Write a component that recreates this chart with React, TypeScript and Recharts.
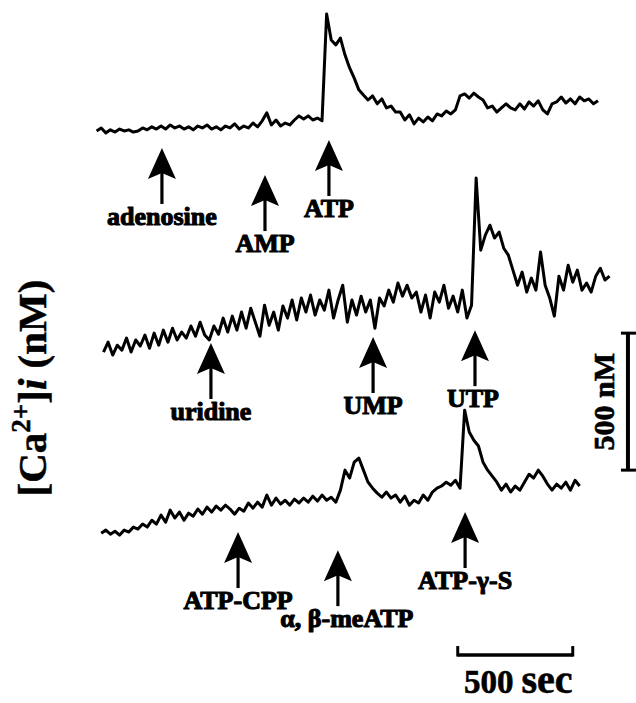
import { LineChart, Line, XAxis, YAxis, ReferenceDot, ReferenceLine } from 'recharts';

const SAMPLE_STEP = 20;

// adenosine / AMP / ATP run
const adenosineRun = [
  100, 111, 93, 104, 96, 107, 100, 104, 96, 100, 111, 104, 115, 107, 118, 107, 122, 111, 118, 107,
  115, 104, 118, 111, 122, 107, 115, 104, 118, 111, 126, 107, 118, 111, 129, 115, 137, 166, 122, 140,
  118, 129, 122, 140, 155, 144, 155, 140, 147, 137, 527, 432, 414, 439, 377, 330, 293, 250, 231, 213,
  228, 199, 217, 184, 191, 169, 169, 140, 159, 126, 147, 133, 151, 137, 162, 155, 173, 162, 177, 228,
  235, 220, 238, 224, 213, 184, 191, 169, 184, 199, 184, 177, 199, 180, 206, 191, 210, 177, 162, 199,
  206, 224, 202, 217, 199, 224, 210, 217, 199, 210
];

// uridine / UMP / UTP run
const uridineRun = [
  93, 129, 82, 118, 100, 144, 93, 137, 115, 155, 107, 162, 118, 173, 129, 180, 137, 166, 144, 188,
  151, 202, 155, 137, 188, 158, 217, 166, 224, 173, 239, 180, 253, 202, 151, 264, 191, 239, 173, 261,
  217, 283, 210, 290, 239, 301, 228, 283, 246, 319, 217, 283, 337, 202, 283, 228, 297, 239, 283, 180,
  290, 261, 319, 275, 345, 297, 337, 290, 312, 239, 301, 217, 312, 275, 337, 253, 297, 239, 319, 217,
  264, 728, 465, 520, 556, 509, 531, 472, 447, 392, 337, 385, 312, 363, 319, 458, 337, 290, 224, 370,
  319, 410, 348, 392, 319, 345, 312, 370, 399, 356, 370
];

// ATP analogue run
const analogueRun = [
  100, 111, 96, 107, 93, 111, 104, 122, 115, 133, 122, 147, 133, 166, 140, 184, 155, 177, 147, 173,
  162, 188, 169, 195, 177, 199, 184, 202, 188, 169, 191, 180, 210, 191, 213, 195, 239, 202, 228, 206,
  220, 202, 224, 210, 228, 213, 235, 217, 239, 220, 231, 213, 257, 330, 301, 359, 374, 330, 286, 264,
  246, 231, 250, 228, 239, 213, 235, 202, 220, 210, 239, 220, 250, 264, 272, 286, 275, 293, 264, 549,
  469, 439, 418, 359, 330, 308, 286, 257, 279, 250, 272, 257, 286, 315, 301, 330, 308, 279, 257, 279,
  264, 286, 257, 293, 272
];

const traceRuns = [adenosineRun, uridineRun, analogueRun];
const traceStarts = [0, 30, 20]; // s
const traceOffsets = [1988, 1188, 520]; // nM, stacks the three runs

// agonist additions
const stimulusLabels = ['adenosine', 'AMP', 'ATP', 'uridine', 'UMP', 'UTP', 'ATP-CPP', 'α, β-meATP', 'ATP-γ-S'];
const stimulusRun = [0, 0, 0, 1, 1, 1, 2, 2, 2];
const stimulusTimes = [284, 732, 1010, 497, 1202, 1645, 615, 1049, 1602];
const stimulusLevels = [38, -61, 67, 126, 148, 173, 104, 38, 177]; // nM on that run, arrow tip

// calibration bars
const timeBarSeconds = 500;
const concBarNm = 500;
const timeBarStart = 1570;
const timeBarLevel = 175;
const concBarTime = 2310;
const concBarFrom = 850;

const FONT = "'Liberation Serif', 'Times New Roman', serif";

const series = traceRuns.map((run, k) =>
  run.map((v, i) => ({ t: traceStarts[k] + i * SAMPLE_STEP, ca: v + traceOffsets[k] }))
);

const labelNudge: Record<string, number> = { 'α, β-meATP': 9, UTP: -2 };

const Arrow = (props: any) => {
  const { cx, cy, label } = props;
  if (cx == null || cy == null) return null;
  return (
    <g>
      <line x1={cx} y1={cy + 20} x2={cx} y2={cy + 56} stroke="#000" strokeWidth={3.2} />
      <path d={`M${cx},${cy} L${cx + 14},${cy + 31} L${cx},${cy + 25} L${cx - 14},${cy + 31} Z`} fill="#000" />
      <text
        x={cx + (labelNudge[label] || 0)}
        y={cy + 77}
        textAnchor="middle"
        fontFamily={FONT}
        fontWeight="bold"
        fontSize={26}
        stroke="#000"
        strokeWidth={1.1}
        strokeLinejoin="round"
        fill="#000"
      >
        {label}
      </text>
    </g>
  );
};

const TimeBar = (props: any) => {
  const { x1, y1, x2 } = props;
  return (
    <g>
      <line x1={x1} y1={y1} x2={x2} y2={y1} stroke="#000" strokeWidth={3.5} />
      <line x1={x1} y1={y1 + 1.5} x2={x1} y2={y1 - 9} stroke="#000" strokeWidth={3} />
      <line x1={x2} y1={y1 + 1.5} x2={x2} y2={y1 - 9} stroke="#000" strokeWidth={3} />
      <text
        x={(x1 + x2) / 2 + 3}
        y={y1 + 38}
        textAnchor="middle"
        fontFamily={FONT}
        fontWeight="bold"
        fill="#000"
        stroke="#000"
        strokeWidth={0.6}
      >
        <tspan fontSize={33}>{timeBarSeconds}</tspan>
        <tspan fontSize={40} dx={8}>sec</tspan>
      </text>
    </g>
  );
};

const ConcBar = (props: any) => {
  const { x1, y1, y2 } = props;
  const mid = (y1 + y2) / 2;
  return (
    <g>
      <line x1={x1} y1={y1} x2={x1} y2={y2} stroke="#000" strokeWidth={4} />
      <line x1={x1 - 7} y1={y1} x2={x1 + 8} y2={y1} stroke="#000" strokeWidth={3} />
      <line x1={x1 - 7} y1={y2} x2={x1 + 8} y2={y2} stroke="#000" strokeWidth={3} />
      <text
        x={x1 - 14}
        y={mid}
        transform={`rotate(-90 ${x1 - 14} ${mid})`}
        textAnchor="middle"
        fontFamily={FONT}
        fontWeight="bold"
        fontSize={30}
        stroke="#000"
        strokeWidth={0.6}
        fill="#000"
      >
        {concBarNm} nM
      </text>
    </g>
  );
};

export default function App() {
  return (
    <div style={{ position: 'absolute', left: 0, top: 0, background: '#fff' }}>
      <LineChart width={636} height={703} margin={{ top: 0, right: 0, bottom: 0, left: 0 }}>
        <XAxis type="number" dataKey="t" domain={[-420, 2345]} hide allowDataOverflow />
        <YAxis type="number" dataKey="ca" domain={[0, 2566]} hide allowDataOverflow />

        {series.map((d, k) => (
          <Line
            key={k}
            data={d}
            dataKey="ca"
            type="linear"
            stroke="#000"
            strokeWidth={3}
            strokeLinejoin="round"
            dot={false}
            activeDot={false}
            isAnimationActive={false}
          />
        ))}

        {stimulusLabels.map((name, i) => (
          <ReferenceDot
            key={name}
            x={stimulusTimes[i]}
            y={stimulusLevels[i] + traceOffsets[stimulusRun[i]]}
            shape={(p: any) => <Arrow {...p} label={name} />}
          />
        ))}

        <ReferenceLine
          segment={[
            { x: timeBarStart, y: timeBarLevel },
            { x: timeBarStart + timeBarSeconds, y: timeBarLevel },
          ]}
          shape={(p: any) => <TimeBar {...p} />}
        />
        <ReferenceLine
          segment={[
            { x: concBarTime, y: concBarFrom },
            { x: concBarTime, y: concBarFrom + concBarNm },
          ]}
          shape={(p: any) => <ConcBar {...p} />}
        />

        <text
          x={46}
          y={388}
          transform="rotate(-90 46 388)"
          textAnchor="middle"
          fontFamily={FONT}
          fontWeight="bold"
          fontSize={41}
          stroke="#000"
          strokeWidth={0.5}
          fill="#000"
        >
          [Ca<tspan fontSize={27} dy={-16}>2+</tspan>
          <tspan dy={16}>]</tspan>
          <tspan fontStyle="italic">i</tspan> (nM)
        </text>
      </LineChart>
    </div>
  );
}
